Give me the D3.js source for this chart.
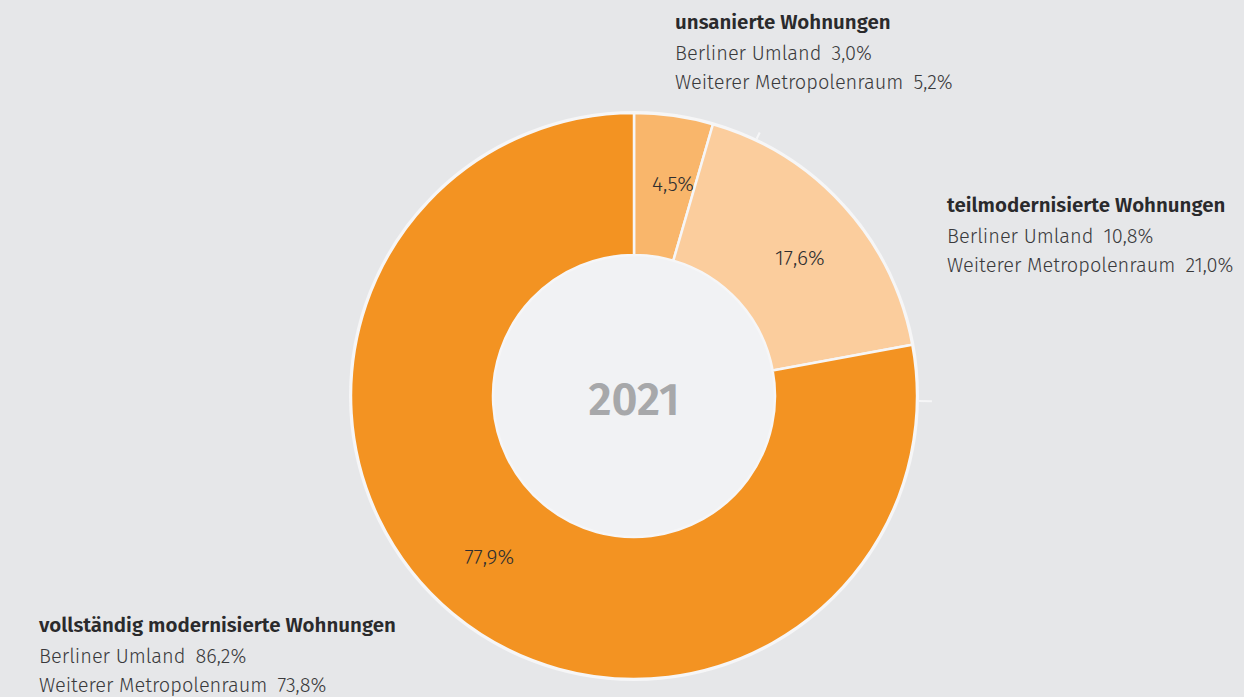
<!DOCTYPE html>
<html>
<head>
<meta charset="utf-8">
<script src="https://cdn.jsdelivr.net/npm/d3@7"></script>
<style>
  html, body { margin: 0; padding: 0; background: #e6e7e9; }
  svg { display: block; }
  text { font-family: "Fira Sans", Lato, "Open Sans", sans-serif; }
</style>
</head>
<body>
<div id="chart"></div>
<script>
// data (Berlin share 2021)
const categories = ["unsanierte Wohnungen", "teilmodernisierte Wohnungen", "vollständig modernisierte Wohnungen"];
const shares = [4.5, 17.6, 77.9];
const umland = [3.0, 10.8, 86.2];
const metropol = [5.2, 21.0, 73.8];
const centerLabel = "2021";

const width = 1244, height = 697;
const cx = 634, cy = 396;
const outerR = 283, innerR = 141;

const colors = d3.scaleOrdinal()
  .domain(categories)
  .range(["#f9b66b", "#fbcd9d", "#f39322"]);

const fmt = v => d3.format(".1f")(v).replace(".", ",") + "%";

const svg = d3.select("#chart")
  .append("svg")
  .attr("width", width)
  .attr("height", height);

const g = svg.append("g")
  .attr("transform", "translate(" + cx + "," + cy + ")");

const pie = d3.pie().sort(null).value(d => d.value);
const arcs = pie(categories.map((c, i) => ({ cat: c, value: shares[i] })));

const arc = d3.arc().innerRadius(innerR).outerRadius(outerR);

// label position: a bit past the mid angle, like the original layout
const labelPos = d => {
  const a = (d.startAngle + d.endAngle) / 2 + 0.04;
  const r = 216;
  return [r * Math.sin(a), -r * Math.cos(a)];
};

// inner hole
g.append("circle")
  .attr("r", innerR)
  .attr("fill", "#f1f2f4");

// outer white rim
g.append("circle")
  .attr("r", outerR + 1)
  .attr("fill", "none")
  .attr("stroke", "#f6f6f7")
  .attr("stroke-width", 2);

g.selectAll("path.slice")
  .data(arcs)
  .enter()
  .append("path")
  .attr("class", "slice")
  .attr("d", arc)
  .attr("fill", d => colors(d.data.cat))
  .attr("stroke", "#f6f6f7")
  .attr("stroke-width", 2.5);

// little leader stubs outside the ring
const stubs = [
  { a: 25.5 * Math.PI / 180, r0: outerR + 2, r1: outerR + 9 },
  { a: 91 * Math.PI / 180, r0: outerR + 2, r1: outerR + 15 }
];
g.selectAll("line.stub")
  .data(stubs)
  .enter()
  .append("line")
  .attr("class", "stub")
  .attr("x1", d => d.r0 * Math.sin(d.a))
  .attr("y1", d => -d.r0 * Math.cos(d.a))
  .attr("x2", d => d.r1 * Math.sin(d.a))
  .attr("y2", d => -d.r1 * Math.cos(d.a))
  .attr("stroke", "#f6f6f7")
  .attr("stroke-width", 2);

// percentage labels inside slices
g.selectAll("text.pct")
  .data(arcs)
  .enter()
  .append("text")
  .attr("class", "pct")
  .attr("transform", d => "translate(" + labelPos(d) + ")")
  .attr("text-anchor", "middle")
  .attr("dy", "0.35em")
  .attr("font-size", 21)
  .attr("font-weight", 300)
  .attr("fill", "#2e2e30")
  .text(d => fmt(d.data.value));

// year in the middle
g.append("text")
  .attr("text-anchor", "middle")
  .attr("dy", "0.35em")
  .attr("y", 3)
  .attr("font-size", 45)
  .attr("font-weight", 600)
  .attr("fill", "#a7a8aa")
  .text(centerLabel);

// legend blocks
const legendPos = [
  { x: 675, y: 29 },
  { x: 947, y: 212 },
  { x: 39, y: 632 }
];

categories.forEach((c, i) => {
  const lg = svg.append("g")
    .attr("transform", "translate(" + legendPos[i].x + "," + legendPos[i].y + ")");
  lg.append("text")
    .attr("font-size", 20.5)
    .attr("font-weight", 600)
    .attr("fill", "#2a2a2c")
    .text(c);
  lg.append("text")
    .attr("y", 31)
    .attr("font-size", 20)
    .attr("font-weight", 300)
    .attr("fill", "#3a3a3c")
    .text("Berliner Umland\u2002" + fmt(umland[i]));
  lg.append("text")
    .attr("y", 60)
    .attr("font-size", 20)
    .attr("font-weight", 300)
    .attr("fill", "#3a3a3c")
    .text("Weiterer Metropolenraum\u2002" + fmt(metropol[i]));
});
</script>
</body>
</html>
